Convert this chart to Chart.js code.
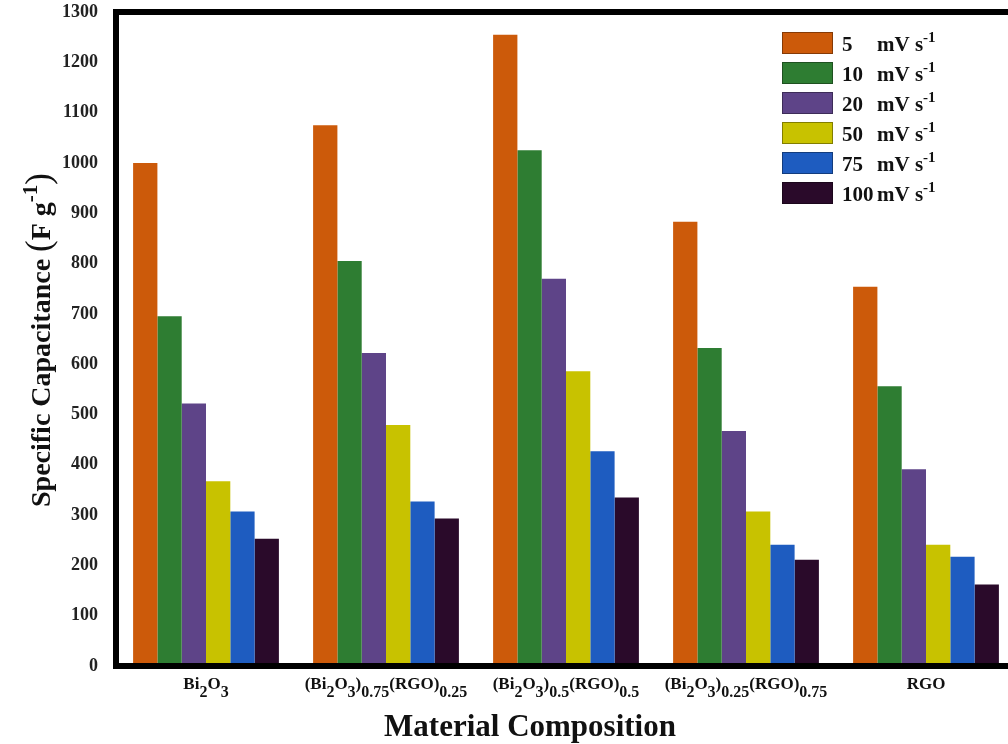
<!DOCTYPE html>
<html><head><meta charset="utf-8">
<script src="https://cdn.jsdelivr.net/npm/chart.js@4.4.0/dist/chart.umd.min.js"></script>
<style>
html,body{margin:0;padding:0;background:#fff;overflow:hidden;width:1008px;height:744px}
#wrap{width:1024px;height:744px;position:relative}
</style></head>
<body><div id="wrap"><canvas id="c" width="1024" height="744" style="width:1024px;height:744px"></canvas></div>
<script>
// ---- data ----
const categories = ['Bi_2O_3', '(Bi_2O_3)_{0.75}(RGO)_{0.25}', '(Bi_2O_3)_{0.5}(RGO)_{0.5}', '(Bi_2O_3)_{0.25}(RGO)_{0.75}', 'RGO'];
const scanRates = ['5', '10', '20', '50', '75', '100'];
const s5   = [1000, 1075, 1255, 883, 754];
const s10  = [695, 805, 1025, 632, 556];
const s20  = [522, 622, 770, 467, 391];
const s50  = [367, 479, 586, 307, 241];
const s75  = [307, 327, 427, 241, 217];
const s100 = [253, 293, 335, 211, 162];
const yTickValues = [0,100,200,300,400,500,600,700,800,900,1000,1100,1200,1300];
const colors = ['#CC5A0A', '#2E7D32', '#5E4488', '#C8C200', '#1E5CC0', '#2A0A2A'];
const seriesValues = [s5, s10, s20, s50, s75, s100];

const SERIF = '"Liberation Serif","Times New Roman",serif';

function parseRich(str) {
  const segs = []; let i = 0, buf = '';
  while (i < str.length) {
    const ch = str[i];
    if (ch === '_' || ch === '^') {
      if (buf) { segs.push({t: buf, k: 0}); buf = ''; }
      const k = ch === '_' ? -1 : 1;
      i++;
      if (str[i] === '{') { const j = str.indexOf('}', i); segs.push({t: str.slice(i+1, j), k}); i = j + 1; }
      else { segs.push({t: str[i], k}); i++; }
    } else { buf += ch; i++; }
  }
  if (buf) segs.push({t: buf, k: 0});
  return segs;
}
function drawRich(ctx, segs, x, y, size, subSize, off, align) {
  const fm = s => 'bold ' + s + 'px ' + SERIF;
  let w = 0;
  segs.forEach(s => { ctx.font = fm(s.k ? subSize : size); w += ctx.measureText(s.t).width; });
  let cx = align === 'center' ? x - w / 2 : x;
  ctx.textAlign = 'left'; ctx.textBaseline = 'alphabetic';
  segs.forEach(s => {
    ctx.font = fm(s.k ? subSize : size);
    ctx.fillText(s.t, cx, y + (s.k === -1 ? off : s.k === 1 ? -off : 0));
    cx += ctx.measureText(s.t).width;
  });
}

const decor = {
  id: 'decor',
  afterDraw(chart) {
    const ctx = chart.ctx, a = chart.chartArea, xs = chart.scales.x;
    ctx.save();
    // frame
    ctx.strokeStyle = '#000'; ctx.lineWidth = 6;
    ctx.strokeRect(a.left, a.top, a.right - a.left, a.bottom - a.top);
    ctx.fillStyle = '#111';
    // category labels
    categories.forEach((c, i) => {
      const px = xs.getPixelForValue(i);
      drawRich(ctx, parseRich(c), px, 689, 17, 16, 8, 'center');
    });
    // x title
    ctx.font = 'bold 31px ' + SERIF; ctx.textAlign = 'center'; ctx.textBaseline = 'alphabetic';
    ctx.fillText('Material Composition', 530, 736);
    // y title
    ctx.save();
    ctx.translate(50, 340); ctx.rotate(-Math.PI / 2);
    const parts = [{t: 'Specific Capacitance ', f: 'bold 28px ' + SERIF, dy: 0},
                   {t: '(', f: '35px ' + SERIF, dy: 0},
                   {t: 'F g', f: 'bold 28px ' + SERIF, dy: 0},
                   {t: '-1', f: 'bold 21px ' + SERIF, dy: -13},
                   {t: ')', f: '35px ' + SERIF, dy: 0}];
    let tw = 0; parts.forEach(p => { ctx.font = p.f; tw += ctx.measureText(p.t).width; });
    let cx = -tw / 2; ctx.textAlign = 'left';
    parts.forEach(p => { ctx.font = p.f; ctx.fillText(p.t, cx, p.dy); cx += ctx.measureText(p.t).width; });
    ctx.restore();
    // legend
    chart.data.datasets.forEach((ds, i) => {
      const top = 32 + i * 30;
      ctx.fillStyle = ds.backgroundColor;
      ctx.fillRect(782, top, 51, 22);
      ctx.strokeStyle = 'rgba(0,0,0,0.35)'; ctx.lineWidth = 1;
      ctx.strokeRect(782.5, top + 0.5, 50, 21);
      ctx.fillStyle = '#111';
      ctx.font = 'bold 21px ' + SERIF; ctx.textAlign = 'left';
      const base = top + 19;
      ctx.fillText(scanRates[i], 842, base);
      const mx = Math.max(877, 842 + ctx.measureText(scanRates[i]).width);
      ctx.fillText('mV s', mx, base);
      const w2 = ctx.measureText('mV s').width;
      ctx.font = 'bold 15px ' + SERIF;
      ctx.fillText('-1', mx + w2, base - 9);
    });
    ctx.restore();
  }
};

new Chart(document.getElementById('c'), {
  type: 'bar',
  data: {
    labels: categories,
    datasets: seriesValues.map((v, i) => ({
      label: scanRates[i] + ' mV s-1',
      data: v,
      backgroundColor: colors[i],
      borderWidth: 0,
      categoryPercentage: 0.81,
      barPercentage: 1.0
    }))
  },
  options: {
    responsive: false,
    maintainAspectRatio: false,
    animation: false,
    devicePixelRatio: 1,
    layout: {padding: {top: 12, right: 8, bottom: 78, left: 0}},
    plugins: {legend: {display: false}, tooltip: {enabled: false}},
    scales: {
      x: {display: false},
      y: {
        min: 0, max: 1300,
        afterBuildTicks(s) { s.ticks = yTickValues.map(v => ({value: v})); },
        afterFit(s) { s.width = 116; s.paddingTop = 0; s.paddingBottom = 0; },
        grid: {display: false},
        border: {display: false},
        ticks: {color: '#222', padding: 10, autoSkip: false, callback: v => String(v),
                font: {family: SERIF, size: 18, weight: 'bold'}}
      }
    }
  },
  plugins: [decor]
});
</script>
</body></html>
